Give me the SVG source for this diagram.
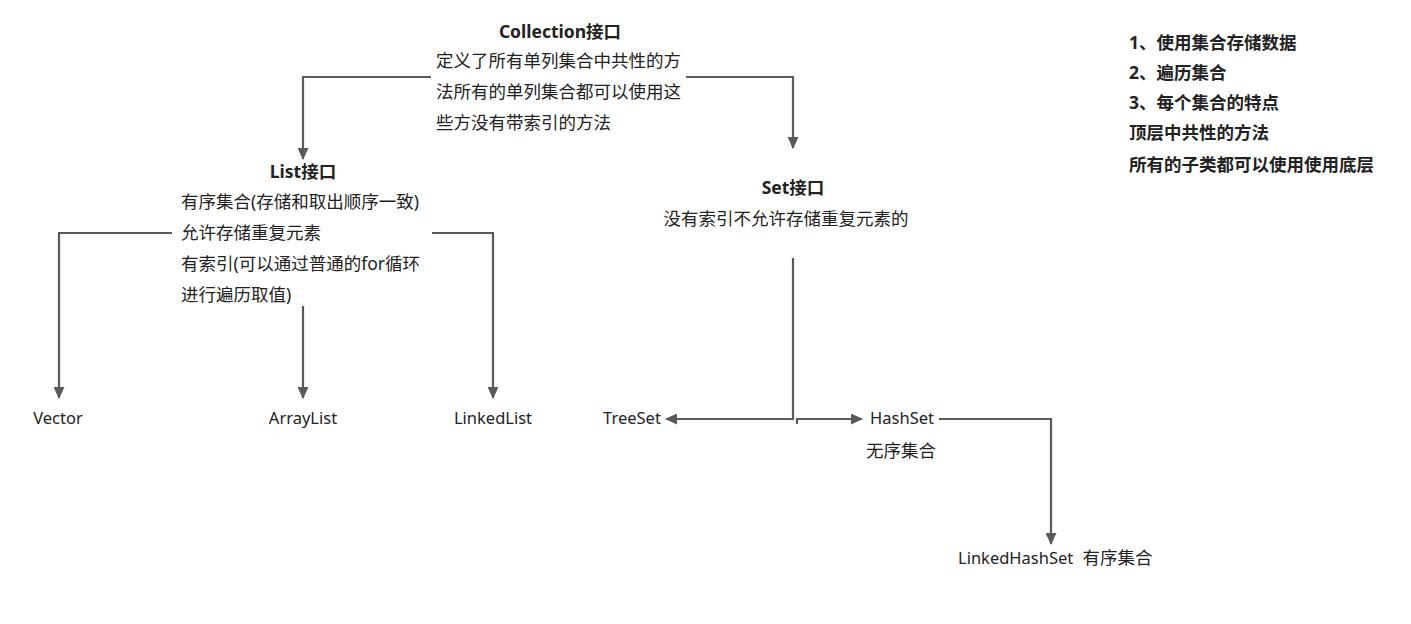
<svg xmlns="http://www.w3.org/2000/svg" width="1411" height="624" viewBox="0 0 1411 624">
<style>
text{font-family:"Noto Sans","Noto Sans CJK SC",sans-serif;font-size:17.5px;fill:#222}
.b{font-weight:bold}
.c{text-anchor:middle}
.l{font-size:16.5px}
.ln{fill:none;stroke:#5a5a5a;stroke-width:2.2}
</style>
<defs>
<marker id="ah" viewBox="0 0 12 11" refX="11" refY="5.5" markerWidth="12" markerHeight="11" markerUnits="userSpaceOnUse" orient="auto">
<path d="M0,0 L12,5.5 L0,11 Z" fill="#5a5a5a"/>
</marker>
</defs>
<rect width="1411" height="624" fill="#fff"/>
<g id="connectors">
<path class="ln" d="M431,77 H303 V159" marker-end="url(#ah)"/>
<path class="ln" d="M686,77 H793 V148" marker-end="url(#ah)"/>
<path class="ln" d="M172,233 H59 V398" marker-end="url(#ah)"/>
<path class="ln" d="M303,306 V398" marker-end="url(#ah)"/>
<path class="ln" d="M432,233 H493 V398" marker-end="url(#ah)"/>
<path class="ln" d="M793,258 V419 H666" marker-end="url(#ah)"/>
<path class="ln" d="M797,424 V419 H862" marker-end="url(#ah)"/>
<path class="ln" d="M939,419 H1051 V544" marker-end="url(#ah)"/>
</g>
<g id="collection">
<text class="b c" x="560" y="38">Collection接口</text>
<text x="436" y="67">定义了所有单列集合中共性的方</text>
<text x="436" y="98">法所有的单列集合都可以使用这</text>
<text x="436" y="129">些方没有带索引的方法</text>
</g>
<g id="list">
<text class="b c" x="303" y="178">List接口</text>
<text x="181" y="208">有序集合(存储和取出顺序一致)</text>
<text x="181" y="239">允许存储重复元素</text>
<text x="181" y="270">有索引(可以通过普通的for循环</text>
<text x="181" y="301">进行遍历取值)</text>
</g>
<g id="set">
<text class="b c" x="793" y="194">Set接口</text>
<text class="c" x="786" y="225">没有索引不允许存储重复元素的</text>
</g>
<g id="vector"><text class="c l" x="58" y="424">Vector</text></g>
<g id="arraylist"><text class="c l" x="303" y="424">ArrayList</text></g>
<g id="linkedlist"><text class="c l" x="493" y="424">LinkedList</text></g>
<g id="treeset"><text class="c l" x="632" y="424">TreeSet</text></g>
<g id="hashset">
<text class="c l" x="902" y="424">HashSet</text>
<text class="c" x="901" y="457">无序集合</text>
</g>
<g id="linkedhashset"><text x="958" y="564" xml:space="preserve"><tspan class="l">LinkedHashSet</tspan>  有序集合</text></g>
<g id="notes">
<text class="b" x="1129" y="49">1、使用集合存储数据</text>
<text class="b" x="1129" y="79">2、遍历集合</text>
<text class="b" x="1129" y="109">3、每个集合的特点</text>
<text class="b" x="1129" y="139">顶层中共性的方法</text>
<text class="b" x="1129" y="171">所有的子类都可以使用使用底层</text>
</g>
</svg>
